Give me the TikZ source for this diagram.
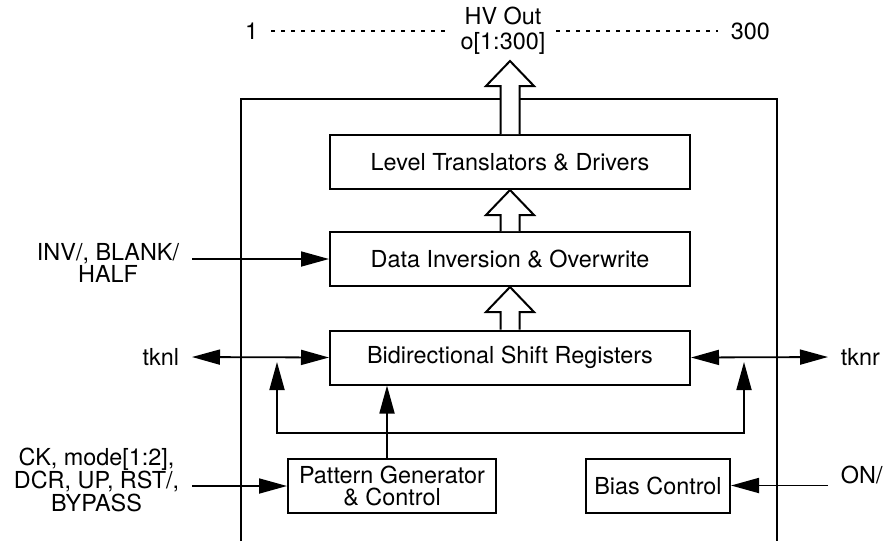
\documentclass[tikz,border=0pt]{standalone}
\usepackage{fontspec}
\setmainfont{TeX Gyre Heros}
\usetikzlibrary{arrows.meta,calc}

\newcommand{\busarrow}[2]{%
  \draw[bus] let \p1=(#1), \p2=(#2) in
    (\x1-4.75pt,\y1) -- (\x1-4.75pt,\y2-12.5pt) -- (\x1-12pt,\y2-12.5pt) -- (\x1,\y2)
    -- (\x1+12pt,\y2-12.5pt) -- (\x1+4.75pt,\y2-12.5pt) -- (\x1+4.75pt,\y1);}

\begin{document}
\begin{tikzpicture} [x=0.5pt, y=-0.5pt, >={Triangle[length=14pt,width=7.5pt]},
    line width=0.9pt,
    every node/.style={font=\fontsize{11.7}{11.3}\selectfont},
    blk/.style={draw, line width=1pt, minimum width=180pt, minimum height=27pt, inner sep=2pt, align=center},
    sig/.style={inner xsep=6pt, inner ysep=1pt, align=center},
    bus/.style={draw, fill=white, line width=1pt},
    dots/.style={dash pattern=on 2pt off 3pt}]
  \useasboundingbox (0,0) rectangle (883,542);

  % chip outline, open at the bottom
  \draw[line width=1pt] (241,541) |- (777,99) -- (777,541);

  \node[blk] (lvl) at (510,162) {Level Translators \& Drivers};
  \node[blk] (data) at (510,259) {Data Inversion \& Overwrite};
  \node[blk] (bidi) at (510,357.5) {Bidirectional Shift Registers};
  \node[blk, minimum width=104pt] (pat) at (392,486) {Pattern Generator\\\& Control};
  \node[blk, minimum width=72pt] (bias) at (658,485.5) {Bias Control};

  \node[sig, inner xsep=5pt] (hv) at (503,31) {HV Out\\[1.2pt]o[1:300]};
  \node[sig, anchor=east] (one) at (271,31) {1};
  \node[sig, anchor=west] (last) at (718,31) {300};
  \coordinate (hvtip) at (510,61);

  \node[sig, anchor=east] (inv) at (192,263) {INV/, BLANK/\\HALF};
  \node[sig, anchor=east] (tknl) at (192,357) {tknl};
  \node[sig, anchor=west] (tknr) at (828,357) {tknr};
  \node[sig, anchor=east] (ck) at (192,480) {CK, mode[1:2],\\DCR, UP, RST/,\\BYPASS};
  \node[sig, anchor=west] (on) at (828,475) {ON/};

  \draw[dots] (one.east) -- (hv.west);
  \draw[dots] (hv.east) -- (last.west);

  \busarrow{lvl.north}{hvtip}
  \busarrow{data.north}{lvl.south}
  \busarrow{bidi.north}{data.south}

  \draw[->] (inv.east |- data.west) -- (data.west);
  \draw[<->] (tknl.east) -- (bidi.west);
  \draw[<->] (bidi.east) -- (tknr.west);
  \draw[->] (ck.east |- pat.west) -- (pat.west);
  \draw[->] (on.west |- bias.east) -- (bias.east);

  % feedback into the shift registers
  \coordinate (tap) at (387,433);
  \coordinate (fbl) at (277,362);
  \coordinate (fbr) at (744,362);
  \draw[->] (tap |- pat.north) -- (tap |- bidi.south);
  \draw[<->] (fbl) |- (tap) -| (fbr);
\end{tikzpicture}
\end{document}
